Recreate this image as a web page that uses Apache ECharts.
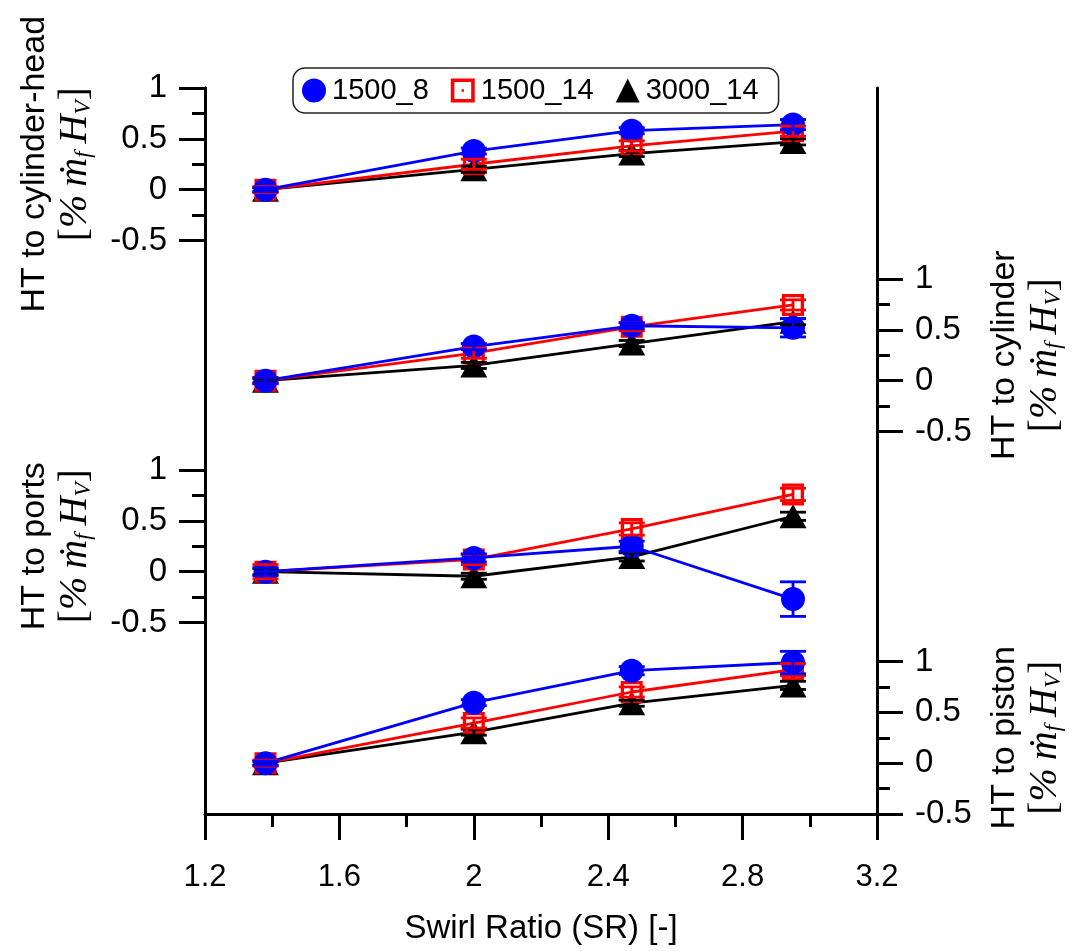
<!DOCTYPE html>
<html>
<head>
<meta charset="utf-8">
<title>Heat transfer vs swirl ratio</title>
<script src="https://cdn.jsdelivr.net/npm/echarts@6/dist/echarts.min.js"></script>
<style>
  html, body { margin: 0; padding: 0; background: #fff; }
  #chart { width: 1077px; height: 951px; }
</style>
</head>
<body>
<div id="chart"></div>
<script>
// Swirl ratio of the four operating points
const swirlRatio = [1.38, 2.0, 2.47, 2.95];
const swirlTicks = [1.2, 1.6, 2.0, 2.4, 2.8, 3.2];
const htTicks = [-0.5, 0, 0.5, 1];
const caseNames = ['1500_8', '1500_14', '3000_14'];

// Change in heat transfer, % of fuel energy (m_f * H_v), per surface
const head_1500_8 = [0, 0.38, 0.58, 0.64];
const head_1500_14 = [0, 0.25, 0.43, 0.575];
const head_3000_14 = [0, 0.20, 0.355, 0.47];
const headErr_1500_8 = [0.02, 0.03, 0.03, 0.05];
const headErr_1500_14 = [0.03, 0.05, 0.05, 0.05];
const headErr_3000_14 = [0.02, 0.03, 0.03, 0.03];

const liner_1500_8 = [0, 0.335, 0.54, 0.52];
const liner_1500_14 = [0, 0.27, 0.53, 0.745];
const liner_3000_14 = [0, 0.15, 0.365, 0.58];
const linerErr_1500_8 = [0.03, 0.03, 0.03, 0.09];
const linerErr_1500_14 = [0.03, 0.05, 0.04, 0.05];
const linerErr_3000_14 = [0.02, 0.03, 0.03, 0.03];

const ports_1500_8 = [0, 0.135, 0.25, -0.27];
const ports_1500_14 = [0, 0.12, 0.42, 0.76];
const ports_3000_14 = [0, -0.045, 0.145, 0.545];
const portsErr_1500_8 = [0.04, 0.04, 0.05, 0.17];
const portsErr_1500_14 = [0.07, 0.05, 0.06, 0.06];
const portsErr_3000_14 = [0.03, 0.03, 0.04, 0.04];

const piston_1500_8 = [0, 0.595, 0.91, 0.99];
const piston_1500_14 = [0, 0.395, 0.70, 0.92];
const piston_3000_14 = [0, 0.305, 0.59, 0.765];
const pistonErr_1500_8 = [0.02, 0.03, 0.04, 0.11];
const pistonErr_1500_14 = [0.03, 0.05, 0.05, 0.06];
const pistonErr_3000_14 = [0.02, 0.03, 0.03, 0.04];

const SANS = "'Liberation Sans', Arial, Helvetica, sans-serif";
const SERIF = "'Liberation Serif', 'Times New Roman', 'DejaVu Serif', serif";
const INK = '#000';

// open square with a centre dot
const squarePath = 'path://M0,0H20V20H0Z M3,3V17H17V3Z M9,9H11V11H9Z';

const caseStyle = {
  '1500_8':  { color: '#0000ff', symbol: 'circle',   size: 24 },
  '1500_14': { color: '#ff0000', symbol: squarePath, size: 22 },
  '3000_14': { color: '#000000', symbol: 'triangle', size: [27, 24] }
};

const panels = [
  { title: 'HT to cylinder-head', side: 'left',
    values: { '1500_8': head_1500_8, '1500_14': head_1500_14, '3000_14': head_3000_14 },
    errors: { '1500_8': headErr_1500_8, '1500_14': headErr_1500_14, '3000_14': headErr_3000_14 } },
  { title: 'HT to cylinder', side: 'right',
    values: { '1500_8': liner_1500_8, '1500_14': liner_1500_14, '3000_14': liner_3000_14 },
    errors: { '1500_8': linerErr_1500_8, '1500_14': linerErr_1500_14, '3000_14': linerErr_3000_14 } },
  { title: 'HT to ports', side: 'left',
    values: { '1500_8': ports_1500_8, '1500_14': ports_1500_14, '3000_14': ports_3000_14 },
    errors: { '1500_8': portsErr_1500_8, '1500_14': portsErr_1500_14, '3000_14': portsErr_3000_14 } },
  { title: 'HT to piston', side: 'right',
    values: { '1500_8': piston_1500_8, '1500_14': piston_1500_14, '3000_14': piston_3000_14 },
    errors: { '1500_8': pistonErr_1500_8, '1500_14': pistonErr_1500_14, '3000_14': pistonErr_3000_14 } }
];

// layout of the stacked layers
const plotLeft = 205, plotWidth = 672;
const plotTop = 88, plotHeight = 726;
const panelTops = [88, 279, 470, 661.5];
const panelHeight = 152.5;

const axisLineStyle = { color: INK, width: 3 };

function unitName(title) {
  return '{t|' + title + '}\n{b|[}{i|%\u2009\u1E41}{s|f}{i|\u2009H}{s|V}{b|]}';
}
const nameRich = {
  t: { fontFamily: SANS, fontSize: 34, lineHeight: 40, color: INK },
  b: { fontFamily: SERIF, fontSize: 40, lineHeight: 40, color: INK },
  i: { fontFamily: SERIF, fontStyle: 'italic', fontSize: 40, lineHeight: 40, color: INK },
  s: { fontFamily: SERIF, fontStyle: 'italic', fontSize: 23, lineHeight: 22, verticalAlign: 'bottom', color: INK }
};

const grid = panelTops.map(top => ({ left: plotLeft, width: plotWidth, top: top, height: panelHeight }));
grid.push({ left: plotLeft, width: plotWidth, top: plotTop, height: plotHeight });

const xAxis = panels.map((p, i) => ({
  gridIndex: i, type: 'value', show: false,
  min: swirlTicks[0], max: swirlTicks[swirlTicks.length - 1]
}));
xAxis.push({
  gridIndex: 4, type: 'value', position: 'bottom',
  min: swirlTicks[0], max: swirlTicks[swirlTicks.length - 1], interval: 0.4,
  axisLine: { show: true, onZero: false, lineStyle: axisLineStyle },
  axisTick: { show: true, length: 26, lineStyle: { color: INK, width: 3 } },
  minorTick: { show: true, splitNumber: 2, length: 13, lineStyle: { color: INK, width: 3 } },
  splitLine: { show: false },
  axisLabel: {
    margin: 48, fontSize: 31, fontFamily: SANS, color: INK,
    formatter: v => String(swirlTicks.find(t => Math.abs(t - v) < 1e-6) ?? +v.toFixed(1))
  },
  name: 'Swirl Ratio (SR) [-]', nameLocation: 'middle', nameGap: 98,
  nameTextStyle: { fontSize: 33, fontFamily: SANS, color: INK }
});

const yAxis = panels.map((p, i) => ({
  gridIndex: i, type: 'value', position: p.side,
  min: htTicks[0], max: htTicks[htTicks.length - 1], interval: 0.5,
  axisLine: { show: true, onZero: false, lineStyle: axisLineStyle },
  axisTick: { show: true, length: 26, lineStyle: { color: INK, width: 3 } },
  minorTick: { show: true, splitNumber: 2, length: 13, lineStyle: { color: INK, width: 3 } },
  splitLine: { show: false },
  axisLabel: { margin: 38, fontSize: 33, fontFamily: SANS, color: INK },
  name: unitName(p.title), nameLocation: 'middle', nameRotate: 90,
  nameGap: p.side === 'left' ? 110 : 108,
  nameTextStyle: { rich: nameRich, align: 'center' }
}));
// continuous frame lines shared by all layers
['left', 'right'].forEach(side => yAxis.push({
  gridIndex: 4, type: 'value', position: side, min: 0, max: 1,
  axisLine: { show: true, onZero: false, lineStyle: axisLineStyle },
  axisTick: { show: false }, axisLabel: { show: false }, splitLine: { show: false }
}));

function errorBarSeries(name, panelIndex, values, errors) {
  const color = caseStyle[name].color;
  return {
    type: 'custom', name: name, xAxisIndex: panelIndex, yAxisIndex: panelIndex,
    silent: true, z: 4, clip: false,
    data: swirlRatio.map((x, k) => [x, values[k], errors[k]]),
    renderItem: (params, api) => {
      const x = api.value(0), y = api.value(1), e = api.value(2);
      const hi = api.coord([x, y + e]);
      const lo = api.coord([x, y - e]);
      const hw = 13;
      const st = { stroke: color, lineWidth: 2.8 };
      return {
        type: 'group',
        children: [
          { type: 'line', shape: { x1: hi[0], y1: hi[1], x2: lo[0], y2: lo[1] }, style: st },
          { type: 'line', shape: { x1: hi[0] - hw, y1: hi[1], x2: hi[0] + hw, y2: hi[1] }, style: st },
          { type: 'line', shape: { x1: lo[0] - hw, y1: lo[1], x2: lo[0] + hw, y2: lo[1] }, style: st }
        ]
      };
    }
  };
}

const series = [];
const drawOrder = ['3000_14', '1500_14', '1500_8'];
panels.forEach((p, i) => {
  drawOrder.forEach(name => {
    const st = caseStyle[name];
    series.push({
      type: 'line', name: name, xAxisIndex: i, yAxisIndex: i,
      data: swirlRatio.map((x, k) => [x, p.values[name][k]]),
      symbol: st.symbol, symbolSize: st.size, showSymbol: true,
      lineStyle: { color: st.color, width: 2.8 },
      itemStyle: { color: st.color, opacity: 1 },
      emphasis: { disabled: true },
      z: 2, clip: false
    });
  });
  drawOrder.forEach(name => series.push(errorBarSeries(name, i, p.values[name], p.errors[name])));
});

const chart = echarts.init(document.getElementById('chart'), null, { renderer: 'canvas' });
chart.setOption({
  animation: false,
  backgroundColor: '#fff',
  grid: grid,
  xAxis: xAxis,
  yAxis: yAxis,
  legend: {
    left: 293, top: 68,
    data: [
      { name: caseNames[0], icon: 'circle', itemStyle: { color: caseStyle['1500_8'].color } },
      { name: caseNames[1], icon: squarePath, itemStyle: { color: caseStyle['1500_14'].color } },
      { name: caseNames[2], icon: 'triangle', itemStyle: { color: caseStyle['3000_14'].color } }
    ],
    itemWidth: 24, itemHeight: 24, itemGap: 22,
    selectedMode: false,
    textStyle: { fontSize: 29, fontFamily: SANS, color: INK, padding: [0, 0, 0, 1] },
    borderColor: '#222', borderWidth: 1.5, borderRadius: 12,
    padding: [8, 20, 8, 9], backgroundColor: '#fff'
  },
  series: series
});
</script>
</body>
</html>
